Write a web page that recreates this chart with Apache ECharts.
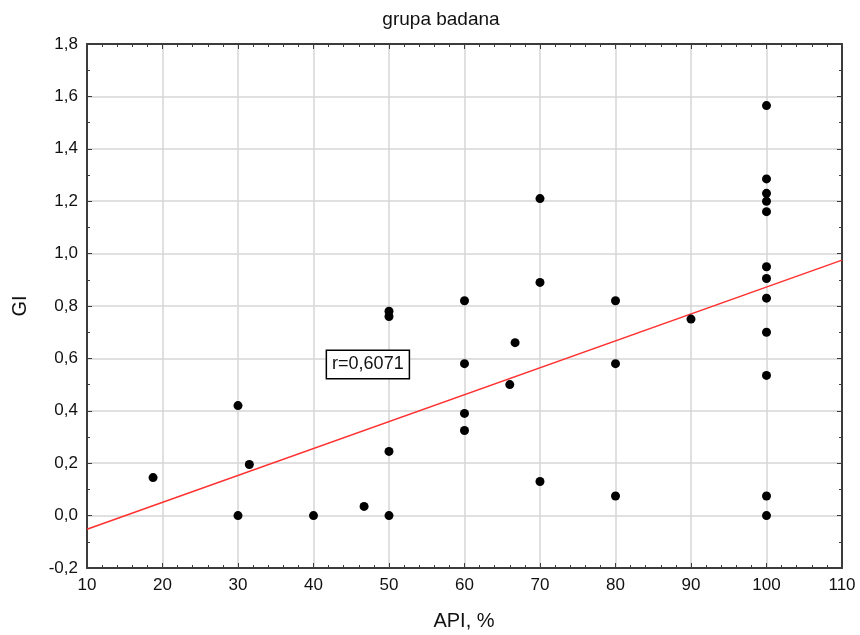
<!DOCTYPE html>
<html>
<head>
<meta charset="utf-8">
<script src="https://cdn.jsdelivr.net/npm/echarts@6/dist/echarts.min.js"></script>
<style>
  html, body { margin: 0; padding: 0; background: #fff; }
  #chart { width: 860px; height: 635px; }
</style>
</head>
<body>
<div id="chart"></div>
<script>
// API (%) against GI for the study group
const apiValues = [
  18.75, 30, 30, 31.5, 40, 46.7,
  50, 50, 50, 50,
  60, 60, 60, 60,
  66, 66.7,
  70, 70, 70,
  80, 80, 80,
  90,
  100, 100, 100, 100, 100, 100, 100, 100, 100, 100, 100, 100
];
const giValues = [
  0.145, 0.42, 0.0, 0.195, 0.0, 0.035,
  0.0, 0.245, 0.76, 0.78,
  0.82, 0.58, 0.39, 0.325,
  0.5, 0.66,
  1.21, 0.89, 0.13,
  0.82, 0.58, 0.075,
  0.75,
  1.565, 1.285, 1.23, 1.2, 1.16, 0.95, 0.905, 0.83, 0.70, 0.535, 0.075, 0.0
];

// fitted regression line, end points
const fitX = [10, 110];
const fitY = [-0.052, 0.975];
const corrLabel = 'r=0,6071';
const corrAnchor = [41.8, 0.577];

const xTicks = { min: 10, max: 110, interval: 10 };
const yTicks = { min: -0.2, max: 1.8, interval: 0.2 };

const FONT = '"Liberation Sans", Arial, sans-serif';
const FRAME = '#3c3c3c';
const GRID = '#d6d6d6';

const points = apiValues.map((x, i) => [x, giValues[i]]);
const fitPoints = fitX.map((x, i) => [x, fitY[i]]);

function fmtY(v) {
  const s = Math.abs(v) < 1e-9 ? '0.0' : v.toFixed(1);
  return s.replace('.', ',');
}

const frameLine = { show: true, onZero: false, lineStyle: { color: FRAME, width: 2 } };
const innerTick = { show: true, inside: true, length: 5, lineStyle: { color: FRAME, width: 1 } };
const innerMinor = (n) => ({ show: true, splitNumber: n, length: 3, lineStyle: { color: FRAME, width: 1 } });

const chart = echarts.init(document.getElementById('chart'), null, { renderer: 'canvas' });

chart.setOption({
  backgroundColor: '#ffffff',
  animation: false,
  title: {
    text: 'grupa badana',
    left: 436, top: 5,
    textAlign: 'center',
    textStyle: { fontFamily: FONT, fontSize: 19, fontWeight: 'normal', color: '#111' }
  },
  grid: { left: 87, right: 18, top: 44, bottom: 67, containLabel: false },
  xAxis: [
    {
      type: 'value', position: 'bottom',
      min: xTicks.min, max: xTicks.max, interval: xTicks.interval,
      axisLine: frameLine, axisTick: innerTick, minorTick: innerMinor(5),
      splitLine: { show: true, lineStyle: { color: GRID, width: 1.5 } },
      axisLabel: { fontFamily: FONT, fontSize: 17, color: '#111', margin: 9 }
    },
    {
      type: 'value', position: 'top',
      min: xTicks.min, max: xTicks.max, interval: xTicks.interval,
      axisLine: frameLine, axisTick: innerTick, minorTick: innerMinor(5),
      splitLine: { show: false }, axisLabel: { show: false }
    }
  ],
  yAxis: [
    {
      type: 'value', position: 'left',
      min: yTicks.min, max: yTicks.max, interval: yTicks.interval,
      axisLine: frameLine, axisTick: innerTick, minorTick: innerMinor(2),
      splitLine: { show: true, lineStyle: { color: GRID, width: 1.5 } },
      axisLabel: { fontFamily: FONT, fontSize: 17, color: '#111', margin: 9, formatter: fmtY }
    },
    {
      type: 'value', position: 'right',
      min: yTicks.min, max: yTicks.max, interval: yTicks.interval,
      axisLine: frameLine, axisTick: innerTick, minorTick: innerMinor(2),
      splitLine: { show: false }, axisLabel: { show: false }
    }
  ],
  series: [
    {
      type: 'line',
      data: fitPoints,
      showSymbol: false,
      symbol: 'none',
      lineStyle: { color: '#ff3030', width: 1.5 },
      z: 2,
      silent: true
    },
    {
      type: 'scatter',
      data: points,
      symbol: 'circle',
      symbolSize: 9,
      itemStyle: { color: '#000', opacity: 1 },
      z: 3
    }
  ]
});

const anchor = chart.convertToPixel({ xAxisIndex: 0, yAxisIndex: 0 }, corrAnchor);

chart.setOption({
  graphic: [
    {
      type: 'text',
      x: 464, y: 621,
      style: {
        text: 'API, %', fontFamily: FONT, fontSize: 20, fill: '#111',
        align: 'center', verticalAlign: 'middle'
      }
    },
    {
      type: 'text',
      x: 20, y: 306,
      rotation: Math.PI / 2,
      style: {
        text: 'GI', fontFamily: FONT, fontSize: 20, fill: '#111',
        align: 'center', verticalAlign: 'middle'
      }
    },
    {
      type: 'text',
      x: anchor[0], y: anchor[1],
      z: 10,
      style: {
        text: corrLabel, fontFamily: FONT, fontSize: 18, fill: '#111',
        align: 'left', verticalAlign: 'middle',
        backgroundColor: '#fff', borderColor: '#000', borderWidth: 1.5,
        padding: [5, 5, 4, 5]
      }
    }
  ]
});
</script>
</body>
</html>
